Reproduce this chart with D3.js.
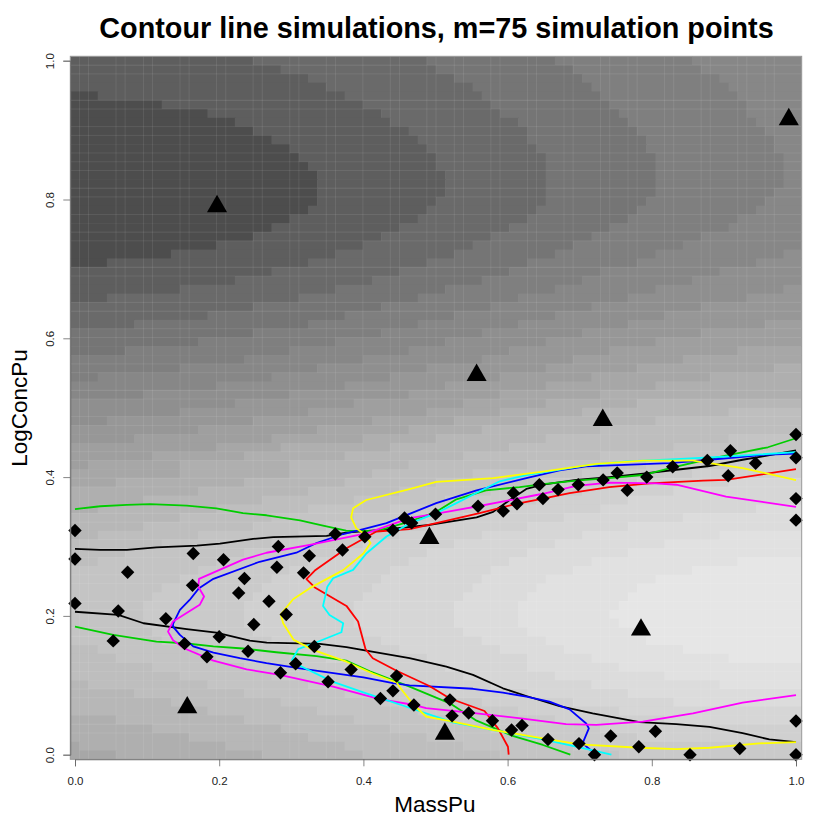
<!DOCTYPE html>
<html>
<head>
<meta charset="utf-8">
<title>Contour line simulations</title>
<style>
body { margin: 0; background: #fff; }
text { font-family: "Liberation Sans", Arial, sans-serif; }
</style>
<script src="https://cdn.jsdelivr.net/npm/d3@7"></script>
</head>
<body>
<div id="visContainer"></div>
<script>
'use strict';

// gray levels of the background surface, darkest first
var grays = ['#4d4d4d', '#5e5e5e', '#6a6a6a', '#757575', '#7f7f7f', '#878787', '#8f8f8f', '#979797', '#9f9f9f', '#a7a7a7',
             '#afafaf', '#b7b7b7', '#bebebe', '#c4c4c4', '#cacaca', '#d0d0d0', '#d6d6d6', '#dcdcdc', '#e1e1e1', '#e6e6e6'];

// one string per image row, top row first: "level:endColumn" runs over 80 columns
var surfaceRows = [
  '1:20 2:39 3:53 4:68 5:80', '1:23 2:40 3:55 4:69 5:80', '1:26 2:42 3:56 4:71 5:80', '1:28 2:44 3:57 4:72 5:80',
  '0:3 1:30 2:45 3:58 4:73 5:80', '0:10 1:32 2:46 3:59 4:74 5:80', '0:15 1:34 2:47 3:60 4:74 5:80', '0:18 1:35 2:49 3:61 4:75 5:80',
  '0:20 1:37 2:50 3:62 4:76 5:80', '0:22 1:38 2:50 3:63 4:77 5:80', '0:24 1:39 2:51 3:63 4:77 5:80', '0:25 1:40 2:52 3:64 4:78 5:80',
  '0:26 1:40 2:52 3:64 4:78 5:80', '0:27 1:41 2:52 3:64 4:78 5:80', '0:27 1:41 2:52 3:64 4:78 5:80', '0:27 1:41 2:52 3:64 4:77 5:80',
  '0:27 1:40 2:52 3:63 4:76 5:80', '0:26 1:39 2:51 3:62 4:75 5:80', '0:24 1:38 2:50 3:61 4:73 5:80', '0:22 1:36 2:48 3:59 4:72 5:80',
  '0:20 1:34 2:46 3:57 4:69 5:80', '0:16 1:32 2:44 3:55 4:67 5:80', '0:11 1:29 2:42 3:53 4:64 5:78 6:80', '0:4 1:26 2:39 3:50 4:62 5:75 6:80',
  '1:22 2:36 3:48 4:58 5:71 6:80', '1:18 2:33 3:45 4:56 5:68 6:80', '1:12 2:29 3:41 4:53 5:64 6:78 7:80', '1:4 2:25 3:38 4:49 5:61 6:74 7:80',
  '2:20 3:34 4:46 5:57 6:69 7:80', '2:15 3:30 4:42 5:53 6:65 7:80', '2:7 3:26 4:38 5:49 6:61 7:76 8:80', '3:20 4:34 5:45 6:56 7:69 8:80',
  '3:14 4:29 5:41 6:52 7:64 8:80', '3:6 4:24 5:37 6:48 7:59 8:73 9:80', '4:19 5:32 6:45 7:55 8:67 9:80', '4:12 5:27 6:39 7:52 8:62 9:77 10:80',
  '4:3 5:22 6:35 7:47 8:57 9:70 10:80', '5:16 6:30 7:41 8:52 9:64 10:80', '5:8 6:24 7:37 8:47 9:58 10:80', '6:18 7:31 8:43 9:52 10:62 11:80',
  '6:12 7:26 8:39 9:47 10:56 11:72 12:80', '6:4 7:20 8:33 9:42 10:50 11:64 12:80', '7:14 8:27 9:37 10:45 11:58 12:80', '7:7 8:22 9:32 10:40 11:52 12:72 13:80',
  '8:16 9:23 10:35 11:48 12:66 13:80', '8:9 9:19 10:30 11:43 12:58 13:74 14:80', '8:2 9:12 10:24 11:37 12:50 13:63 14:75 15:80', '9:12 10:24 11:33 12:44 13:56 14:68 15:80',
  '9:5 10:19 11:30 12:40 13:51 14:62 15:72 16:80', '10:14 11:26 12:36 13:46 14:56 15:66 16:80', '10:8 11:21 12:31 13:41 14:51 15:61 16:80', '10:3 11:16 12:26 13:35 14:47 15:58 16:75 17:80',
  '11:12 12:22 13:31 14:43 15:54 16:67 17:80', '11:8 12:20 13:28 14:39 15:50 16:61 17:80', '11:3 12:14 13:25 14:36 15:45 16:56 17:71 18:80', '12:10 13:22 14:32 15:42 16:53 17:65 18:80',
  '12:6 13:19 14:29 15:39 16:50 17:61 18:80', '12:3 13:16 14:26 15:37 16:48 17:57 18:73 19:80', '13:14 14:24 15:35 16:46 17:55 18:68 19:80', '13:12 14:22 15:34 16:45 17:52 18:64 19:80',
  '13:10 14:21 15:33 16:44 17:51 18:62 19:80', '13:9 14:20 15:32 16:43 17:50 18:61 19:80', '13:8 14:19 15:31 16:42 17:49 18:60 19:80', '13:8 14:19 15:31 16:42 17:49 18:59 19:80',
  '13:8 14:19 15:31 16:42 17:49 18:60 19:80', '13:9 14:20 15:32 16:43 17:50 18:62 19:80', '13:10 14:22 15:34 16:45 17:52 18:63 19:80', '12:3 13:14 14:25 15:36 16:47 17:54 18:67 19:80',
  '12:5 13:16 14:28 15:39 16:50 17:57 18:72 19:80', '12:9 13:19 14:31 15:41 16:50 17:60 18:80', '12:12 13:22 14:33 15:43 16:53 17:65 18:80', '11:2 12:15 13:26 14:36 15:46 16:57 17:71 18:80',
  '11:7 12:19 13:30 14:40 15:50 16:61 17:80', '11:11 12:23 13:34 14:45 15:55 16:66 17:80', '11:15 12:27 13:38 14:49 15:60 16:80', '10:5 11:19 12:31 13:42 14:53 15:65 16:80',
  '10:9 11:23 12:35 13:46 14:58 15:80', '10:13 11:26 12:39 13:50 14:62 15:80', '9:1 10:17 11:30 12:43 13:55 14:80', '9:5 10:21 11:32 12:47 13:60 14:80'
];

// light hairlines left between image cells where the raster did not quite close
var seamCols = [1, 2, 5, 6, 8, 9, 12, 13, 16, 17, 20, 21, 24, 25, 28, 29, 32, 35, 36, 39, 40, 42, 43, 46, 47, 50, 51, 54, 55, 58, 59, 61, 62, 65, 66, 69, 70, 73, 74, 76, 77];
var seamRows = [1, 2, 5, 6, 8, 9, 11, 12, 13, 15, 16, 18, 20, 21, 24, 25, 28, 29, 31, 32, 35, 36, 38, 39, 41, 42, 45, 46, 48, 49, 52, 53, 55, 56, 59, 60, 62, 63, 65, 66, 69, 70, 72, 73, 76, 77];

// simulation points
var diamonds = [
  [0, .323], [0, .282], [0, .218], [.053, .164], [.060, .207], [.073, .263], [.126, .196], [.152, .160],
  [.163, .244], [.164, .290], [.183, .141], [.200, .170], [.206, .281], [.227, .233], [.235, .254], [.240, .149],
  [.248, .1875], [.269, .221], [.280, .270], [.282, .300], [.285, .118], [.293, .202], [.306, .131], [.317, .262],
  [.325, .2865], [.332, .156], [.351, .105], [.361, .318], [.371, .295], [.383, .1226], [.402, .314], [.4236, .081],
  [.441, .092], [.441, .3235], [.446, .1135], [.457, .341], [.467, .334], [.470, .0716], [.500, .3466], [.559, .358],
  [.594, .351], [.608, .377], [.613, .3615], [.644, .389], [.649, .369], [.670, .382], [.698, .389], [.7325, .396],
  [.752, .406], [.766, .381], [.793, .400], [.829, .415], [.877, .424], [.906, .402], [.909, .438], [.944, .420],
  [1, .4615], [1, .428], [1, .369], [1, .338], [.520, .079], [.523, .056], [.546, .060], [.579, .049],
  [.6055, .0356], [.620, .042], [.656, .022], [.699, .016], [.7205, 0], [.743, .027], [.782, .0115], [.805, .0337],
  [.853, 0], [.922, .009], [1, .0486], [1, 0]
];

// design points
var triangles = [
  [.197, .790], [.990, .9155], [.557, .547], [.732, .482], [.4915, .312], [.785, .180], [.1557, .068], [.513, .030]
];

var blackUpper = [[0, .2966], [.035, .295], [.072, .295], [.113, .2986], [.169, .3014], [.201, .304], [.247, .311], [.275, .3135],
  [.349, .3154], [.376, .320], [.420, .3236], [.492, .331], [.557, .342], [.580, .350], [.603, .367], [.626, .383], [.649, .389],
  [.695, .396], [.741, .400], [.788, .405], [.834, .4106], [.880, .416], [.926, .425], [.954, .430], [1, .4385]];
var blackLower = [[0, .206], [.060, .2014], [.095, .1894], [.155, .181], [.196, .176], [.2425, .1644], [.266, .1615], [.3395, .1596],
  [.3765, .155], [.404, .150], [.464, .139], [.515, .127], [.552, .115], [.5935, .0957], [.626, .0846], [.672, .070], [.718, .0596],
  [.783, .047], [.834, .044], [.880, .040], [.926, .031], [.963, .022], [1, .018]];
var greenUpper = [[0, .354], [.035, .358], [.072, .360], [.104, .361], [.155, .359], [.196, .355], [.233, .348], [.2656, .345],
  [.312, .3375], [.344, .330], [.376, .323], [.418, .322], [.464, .336], [.501, .350], [.529, .368], [.570, .381], [.6166, .3856],
  [.649, .390], [.695, .395], [.741, .3986], [.7875, .403], [.834, .415], [.875, .425], [.908, .432], [.961, .443], [1, .456]];
var greenLower = [[0, .1846], [.053, .1726], [.113, .163], [.152, .1606], [.192, .156], [.233, .153], [.279, .1476], [.335, .142],
  [.376, .1356], [.409, .120], [.464, .098], [.52, .074], [.557, .049], [.607, .027], [.649, .014], [.687, 0]];
var blueLine = [[1, .4337], [.954, .432], [.926, .429], [.88, .425], [.8245, .420], [.709, .4154], [.672, .4096], [.626, .3986],
  [.557, .381], [.501, .3625], [.464, .347], [.432, .3337], [.4, .325], [.372, .318], [.335, .305], [.307, .291], [.256, .278],
  [.192, .2534], [.172, .240], [.159, .223], [.1455, .2087], [.136, .1885], [.136, .1846], [.1455, .1726], [.164, .156],
  [.192, .147], [.2286, .139], [.2656, .132], [.312, .1245], [.4, .1115], [.441, .103], [.464, .100], [.552, .095], [.5935, .0894],
  [.626, .0837], [.658, .0764], [.686, .0654], [.709, .045], [.7127, .038], [.704, .0163], [.7205, .002]];
var magentaLine = [[1, .357], [.903, .372], [.834, .389], [.806, .391], [.741, .392], [.695, .3875], [.649, .376], [.559, .358],
  [.5, .347], [.464, .341], [.404, .319], [.3256, .3024], [.2656, .291], [.233, .281], [.172, .2534], [.171, .242], [.179, .228],
  [.173, .216], [.136, .192], [.129, .1774], [.136, .165], [.152, .153], [.192, .1356], [.238, .123], [.284, .115], [.358, .098],
  [.4226, .080], [.471, .0716], [.487, .067], [.557, .0596], [.621, .052], [.681, .044], [.723, .043], [.7875, .0476], [.857, .0596],
  [.926, .075], [1, .086]];
var redLine = [[1, .4115], [.903, .396], [.871, .395], [.797, .391], [.741, .3856], [.686, .377], [.649, .369], [.612, .3615],
  [.561, .348], [.501, .3336], [.464, .325], [.418, .3216], [.3765, .2976], [.3326, .2654], [.321, .253], [.3326, .241], [.3765, .2144],
  [.3926, .192], [.403, .152], [.413, .139], [.446, .121], [.4915, .099], [.52, .081], [.568, .063], [.5866, .038], [.6005, .0115], [.6015, 0]];
var cyanLine = [[1, .436], [.9076, .43], [.8337, .426], [.7644, .4226], [.709, .417], [.626, .403], [.589, .394], [.5566, .377],
  [.529, .3625], [.501, .348], [.464, .333], [.432, .3144], [.404, .290], [.3857, .2663], [.358, .2543], [.35, .242], [.344, .2144],
  [.353, .2014], [.372, .1894], [.3695, .1764], [.335, .162], [.3095, .152], [.301, .1365], [.314, .127], [.358, .105], [.404, .0885],
  [.4734, .0644], [.524, .0466], [.58, .0356], [.649, .022], [.695, .0115], [.744, 0]];
var yellowLine = [[1, .3957], [.926, .413], [.857, .4236], [.7875, .4236], [.7229, .419], [.649, .408], [.58, .3986], [.501, .393],
  [.464, .3827], [.404, .367], [.3857, .355], [.383, .342], [.39, .3264], [.4, .319], [.41, .305], [.4, .290], [.372, .266],
  [.3256, .240], [.3025, .224], [.2854, .2024], [.2887, .1894], [.3035, .1654], [.33, .151], [.3765, .134], [.413, .117], [.446, .104],
  [.455, .091], [.470, .0716], [.487, .055], [.524, .0476], [.58, .0356], [.649, .0236], [.6998, .015], [.783, .010], [.834, .008],
  [.88, .010], [.949, .0163], [1, .018]];

var tickValues = [0, .2, .4, .6, .8, 1];

var width = 830;
var height = 830;

var svg = d3.select('#visContainer')
  .append('svg')
  .attr('width', width)
  .attr('height', height);

var xScale = d3.scaleLinear().domain([0, 1]).range([75, 796]);
var yScale = d3.scaleLinear().domain([0, 1]).range([754.7, 60.7]);
var colScale = d3.scaleBand().domain(d3.range(80)).range([70.3, 801.7]);
var rowScale = d3.scaleBand().domain(d3.range(80)).range([56.3, 759.3]);

// background runs, painted row by row so neighbours close up
var runs = [];
surfaceRows.forEach(function (row, r) {
  var col = 0;
  row.split(' ').forEach(function (run) {
    var parts = run.split(':');
    runs.push({ row: r, start: col, end: +parts[1], level: +parts[0] });
    col = +parts[1];
  });
});

svg.append('g').selectAll('rect')
  .data(runs)
  .enter().append('rect')
  .attr('x', function (d) { return colScale(d.start); })
  .attr('y', function (d) { return rowScale(d.row); })
  .attr('width', function (d) { return (d.end - d.start) * colScale.bandwidth() + (d.end < 80 ? 0.6 : 0); })
  .attr('height', rowScale.bandwidth() + 0.6)
  .attr('fill', function (d) { return grays[d.level]; });

// clean the lower edge of the overlap
svg.append('rect')
  .attr('x', 60).attr('y', rowScale(79) + rowScale.bandwidth())
  .attr('width', 760).attr('height', 2)
  .attr('fill', '#fff');

var seams = svg.append('g')
  .attr('stroke', '#fff')
  .attr('stroke-opacity', 0.09)
  .attr('stroke-width', 1);

seams.selectAll('.seam-col')
  .data(seamCols)
  .enter().append('line')
  .attr('class', 'seam-col')
  .attr('x1', function (d) { return colScale(d); })
  .attr('x2', function (d) { return colScale(d); })
  .attr('y1', rowScale(0))
  .attr('y2', rowScale(79) + rowScale.bandwidth());

seams.selectAll('.seam-row')
  .data(seamRows)
  .enter().append('line')
  .attr('class', 'seam-row')
  .attr('y1', function (d) { return rowScale(d); })
  .attr('y2', function (d) { return rowScale(d); })
  .attr('x1', colScale(0))
  .attr('x2', colScale(79) + colScale.bandwidth());

// simulated contour lines
var line = d3.line()
  .x(function (d) { return xScale(d[0]); })
  .y(function (d) { return yScale(d[1]); });

var contours = [
  [blackUpper, '#000000'], [blackLower, '#000000'],
  [greenUpper, '#00cd00'], [greenLower, '#00cd00'],
  [blueLine, '#0000ff'], [redLine, '#ff0000'],
  [magentaLine, '#ff00ff'], [cyanLine, '#00ffff'], [yellowLine, '#ffff00']
];

contours.forEach(function (c) {
  svg.append('path')
    .attr('d', line(c[0]))
    .attr('fill', 'none')
    .attr('stroke', c[1])
    .attr('stroke-width', 1.8)
    .attr('stroke-linejoin', 'round');
});

// points
svg.append('g').selectAll('path')
  .data(diamonds)
  .enter().append('path')
  .attr('d', d3.symbol().type(d3.symbolSquare).size(90))
  .attr('transform', function (d) { return 'translate(' + xScale(d[0]) + ',' + yScale(d[1]) + ') rotate(45)'; })
  .attr('fill', '#000');

svg.append('g').selectAll('path')
  .data(triangles)
  .enter().append('path')
  .attr('d', d3.symbol().type(d3.symbolTriangle).size(175))
  .attr('transform', function (d) { return 'translate(' + xScale(d[0]) + ',' + yScale(d[1]) + ')'; })
  .attr('fill', '#000');

// box and axes
svg.append('rect')
  .attr('x', 70.3)
  .attr('y', 56.3)
  .attr('width', 731.4)
  .attr('height', 703)
  .attr('fill', 'none')
  .attr('stroke', '#999')
  .attr('stroke-width', 1);

var xAxis = d3.axisBottom(xScale).tickValues(tickValues).tickSizeOuter(0).tickSize(7).tickFormat(d3.format('.1f'));
var yAxis = d3.axisLeft(yScale).tickValues(tickValues).tickSizeOuter(0).tickSize(7).tickFormat(d3.format('.1f'));

var gx = svg.append('g').attr('transform', 'translate(0,759.3)').call(xAxis);
var gy = svg.append('g').attr('transform', 'translate(70.3,0)').call(yAxis);

svg.selectAll('.domain').attr('stroke', '#666').attr('stroke-width', 0.8);
svg.selectAll('.tick line').attr('stroke', '#666').attr('stroke-width', 0.8);
gx.selectAll('text').attr('y', 17.5).attr('font-size', 11.5).attr('fill', '#222');
gy.selectAll('text')
  .attr('x', 0).attr('dy', 0)
  .attr('transform', 'translate(-16,0) rotate(-90)')
  .attr('text-anchor', 'middle')
  .attr('font-size', 11.5)
  .attr('fill', '#222');

// titles
svg.append('text')
  .attr('x', 436.5)
  .attr('y', 38)
  .attr('text-anchor', 'middle')
  .attr('font-size', 28.8)
  .attr('font-weight', 'bold')
  .text('Contour line simulations, m=75 simulation points');

svg.append('text')
  .attr('x', 435)
  .attr('y', 812)
  .attr('text-anchor', 'middle')
  .attr('font-size', 22.5)
  .text('MassPu');

svg.append('text')
  .attr('transform', 'translate(27,408) rotate(-90)')
  .attr('text-anchor', 'middle')
  .attr('font-size', 22.5)
  .text('LogConcPu');
</script>
</body>
</html>
